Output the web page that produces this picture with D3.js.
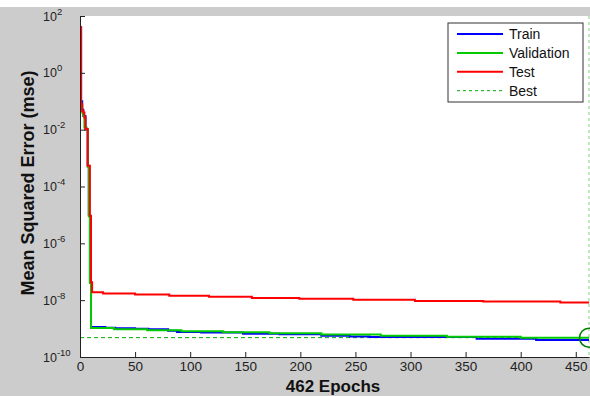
<!DOCTYPE html>
<html>
<head>
<meta charset="utf-8">
<script src="https://cdn.jsdelivr.net/npm/d3@7"></script>
<style>
  html, body { margin: 0; padding: 0; background: #fff; }
  #container { width: 590px; height: 396px; }
  text { font-family: "Liberation Sans", Arial, sans-serif; }
</style>
</head>
<body>
<div id="container"></div>
<script>
// epochs and mse values, each value holds until the next listed epoch
const trainSteps = [
  [0, 40], [1, 0.1], [2, 0.05], [3, 0.03], [5, 0.01], [7, 5.4e-4], [8, 1.0e-5], [9, 4.5e-8],
  [10, 1.14e-9], [23, 1.08e-9], [32, 1.02e-9], [50, 9.8e-10], [62, 9.4e-10], [80, 8.4e-10],
  [88, 7.6e-10], [110, 7.3e-10], [148, 6.6e-10], [181, 6.3e-10], [219, 5.6e-10], [245, 5.3e-10],
  [263, 5.07e-10], [360, 4.4e-10], [414, 4.0e-10], [462, 4.0e-10]
];
const validationSteps = [
  [0, 0.1], [1, 0.07], [2, 0.04], [3, 0.03], [4, 0.012], [6, 0.01], [7, 5.0e-4], [8, 9.0e-6],
  [9, 4.0e-8], [10, 1.05e-9], [31, 9.5e-10], [61, 8.7e-10], [92, 8.05e-10], [130, 7.4e-10],
  [172, 6.8e-10], [219, 6.2e-10], [273, 5.6e-10], [333, 5.2e-10], [400, 4.8e-10], [462, 4.8e-10]
];
const testSteps = [
  [0, 40], [1, 0.08], [2, 0.045], [3, 0.04], [4, 0.027], [5, 0.0105], [7, 5.4e-4], [9, 9.3e-6],
  [10, 4.3e-8], [11, 1.9e-8], [21, 1.7e-8], [50, 1.58e-8], [81, 1.42e-8], [117, 1.31e-8],
  [156, 1.2e-8], [199, 1.12e-8], [248, 1.03e-8], [304, 9.4e-9], [366, 8.9e-9], [436, 8.2e-9],
  [462, 8.2e-9]
];
const bestEpoch = 462;
const bestPerf = 4.8e-10;
const xTicks = [0, 50, 100, 150, 200, 250, 300, 350, 400, 450];
const yTickExps = [2, 0, -2, -4, -6, -8, -10];
const legendNames = ["Train", "Validation", "Test", "Best"];

const W = 590, H = 396;
const margin = {top: 16, right: 1, bottom: 39, left: 80};
const colors = {Train: "#0000ff", Validation: "#00cc00", Test: "#ff0000", Best: "#00aa00"};

const svg = d3.select("#container").append("svg")
  .attr("width", W).attr("height", H);

// figure background
svg.append("rect").attr("x", 0).attr("y", 7).attr("width", W).attr("height", H - 7).attr("fill", "#cccccc");

const x = d3.scaleLinear().domain([0, 462]).range([margin.left, W - margin.right]);
const y = d3.scaleLog().domain([1e-10, 1e2]).range([H - margin.bottom, margin.top]);

svg.append("rect")
  .attr("x", margin.left).attr("y", margin.top)
  .attr("width", W - margin.left).attr("height", H - margin.bottom - margin.top)
  .attr("fill", "#fff");

// best markers
svg.append("line")
  .attr("x1", x(0)).attr("x2", x(462))
  .attr("y1", y(bestPerf)).attr("y2", y(bestPerf))
  .attr("stroke", colors.Best).attr("stroke-width", 1).attr("stroke-dasharray", "4,3");
svg.append("line")
  .attr("x1", x(bestEpoch)).attr("x2", x(bestEpoch))
  .attr("y1", y(1e2)).attr("y2", y(1e-10))
  .attr("stroke", "#88cc88").attr("stroke-width", 1).attr("stroke-dasharray", "3,3");

const line = d3.line()
  .x(d => x(d[0]))
  .y(d => y(d[1]))
  .curve(d3.curveStepAfter);

[["Train", trainSteps], ["Validation", validationSteps], ["Test", testSteps]].forEach(([name, data]) => {
  svg.append("path")
    .datum(data)
    .attr("fill", "none")
    .attr("stroke", colors[name])
    .attr("stroke-width", 2)
    .attr("d", line);
});

svg.append("circle")
  .attr("cx", x(bestEpoch)).attr("cy", y(bestPerf)).attr("r", 9.5)
  .attr("fill", "none").attr("stroke", "#008000").attr("stroke-width", 1.5);

// axes
const yAxis = svg.append("g")
  .attr("transform", `translate(${margin.left},0)`)
  .call(d3.axisLeft(y).tickValues(yTickExps.map(e => Math.pow(10, e)))
    .tickSizeInner(-5).tickSizeOuter(0).tickFormat(""));
yAxis.select(".domain").attr("stroke", "#222");
yAxis.selectAll(".tick line").attr("stroke", "#222");

const xAxis = svg.append("g")
  .attr("transform", `translate(0,${H - margin.bottom})`)
  .call(d3.axisBottom(x).tickValues(xTicks).tickSizeInner(-5).tickSizeOuter(0).tickPadding(4));
xAxis.select(".domain").attr("stroke", "#222");
xAxis.selectAll(".tick line").attr("stroke", "#222");
xAxis.selectAll(".tick text")
  .attr("fill", "#222").attr("font-size", 13.5)
  .attr("font-family", "Liberation Sans, Arial, sans-serif");

const yLabels = svg.append("g");
yTickExps.forEach(e => {
  const t = yLabels.append("text")
    .attr("x", 43).attr("y", y(Math.pow(10, e)) + 4.5)
    .attr("fill", "#222").attr("font-size", 12.5);
  t.append("tspan").text("10");
  t.append("tspan").attr("dy", -6).attr("font-size", 9.5).text(e);
});

svg.append("text")
  .attr("x", 333).attr("y", 392)
  .attr("text-anchor", "middle")
  .attr("font-size", 17).attr("font-weight", "bold")
  .attr("fill", "#111")
  .text("462 Epochs");

svg.append("text")
  .attr("transform", `translate(34,${183}) rotate(-90)`)
  .attr("text-anchor", "middle")
  .attr("font-size", 18).attr("font-weight", "bold")
  .attr("fill", "#111")
  .text("Mean Squared Error  (mse)");

// legend
const legend = svg.append("g").attr("transform", "translate(448,23)");
legend.append("rect")
  .attr("width", 135).attr("height", 79)
  .attr("fill", "#fff").attr("stroke", "#333").attr("stroke-width", 1);
legendNames.forEach((name, i) => {
  const ly = 11 + i * 18.9;
  legend.append("line")
    .attr("x1", 9).attr("x2", 55).attr("y1", ly).attr("y2", ly)
    .attr("stroke", colors[name])
    .attr("stroke-width", name === "Best" ? 1 : 2)
    .attr("stroke-dasharray", name === "Best" ? "3,3" : null);
  legend.append("text")
    .attr("x", 61).attr("y", ly + 5)
    .attr("font-size", 14).attr("fill", "#111")
    .text(name);
});
</script>
</body>
</html>
